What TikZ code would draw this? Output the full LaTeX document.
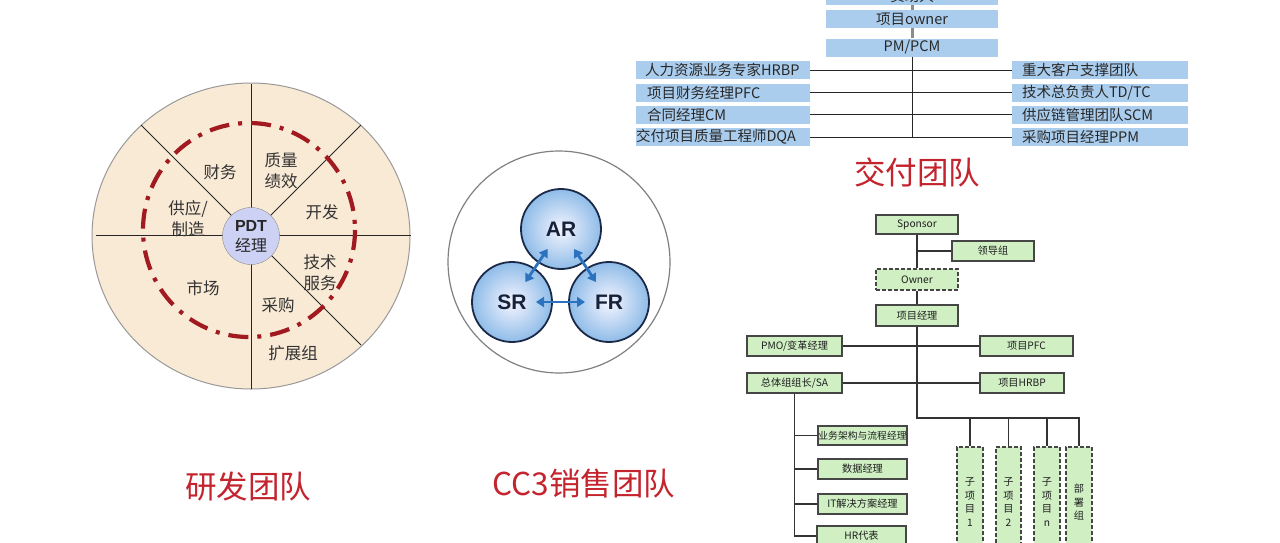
\documentclass[tikz,border=0pt]{standalone}
\usepackage{fontspec}
\setmainfont{Noto Sans CJK SC}
\newfontfamily\latb{Liberation Sans}
\usetikzlibrary{arrows.meta}
\definecolor{dblue}{RGB}{170,205,238}
\definecolor{dtxt}{RGB}{40,40,40}
\definecolor{ttl}{RGB}{196,36,46}
\definecolor{beige}{RGB}{249,234,214}
\definecolor{ring}{RGB}{160,26,32}
\definecolor{lav}{RGB}{205,210,245}
\definecolor{ggreen}{RGB}{208,240,196}
\definecolor{gdraw}{RGB}{70,70,70}
\definecolor{navy}{RGB}{27,42,72}
\definecolor{arblue}{RGB}{44,115,191}
\tikzset{
  dbox/.style={fill=dblue, minimum width=174, minimum height=18, inner sep=0, text=dtxt, font=\fontsize{14.5}{16}\selectfont},
  dtext/.style={anchor=west, inner sep=0, text=dtxt, font=\fontsize{14.5}{16}\selectfont},
  bline/.style={draw=black!85, line width=1},
  gline/.style={draw=black!45, line width=3},
  title/.style={text=ttl, font=\fontsize{31.5}{34}\selectfont},
  lbl/.style={text=black!80, font=\fontsize{16.5}{21}\selectfont, align=center, inner sep=0},
  gbox/.style={draw=gdraw, fill=ggreen, line width=1.1, minimum width=82, minimum height=20, inner sep=0, text=black!88, font=\fontsize{10.2}{13.5}\selectfont, align=center},
  dsh/.style={dash pattern=on 4 off 2},
  oline/.style={draw=black!80, line width=1.3},
  rball/.style={circle, draw=navy, line width=1.8, minimum size=80, inner color=blue!4, outer color={rgb,255:red,143;green,188;blue,232}, text=navy!80!black, font=\latb\bfseries\fontsize{21}{24}\selectfont},
  darr/.style={draw=arblue, line width=2.8, {Triangle[length=8,width=10]}-{Triangle[length=8,width=10]}, shorten <=24, shorten >=24},
}
\begin{document}
\begin{tikzpicture}[x=1pt,y=-1pt]
\useasboundingbox (0,0) rectangle (1280,542);
\fill[white] (0,0) rectangle (1280,542);
\clip (0,0) rectangle (1280,542);

% ---------- Delivery team ----------
\node[dbox, minimum width=172] (d0) at (912,-4) {资助人};
\node[dbox, minimum width=172] (d1) at (912,19) {项目owner};
\node[dbox, minimum width=172] (d2) at (912,47.5) {PM/PCM};
\draw[gline] (d0.south) -- (d1.north);
\draw[gline] (d1.south) -- (d2.north);

\node[dbox] (l1) at (723,70) {};
\node[dbox] (l2) at (723,92.5) {};
\node[dbox] (l3) at (723,114.5) {};
\node[dbox] (l4) at (723,137) {};
\node[dbox, minimum width=176] (r1) at (1100,70) {};
\node[dbox, minimum width=176] (r2) at (1100,92.5) {};
\node[dbox, minimum width=176] (r3) at (1100,114.5) {};
\node[dbox, minimum width=176] (r4) at (1100,137) {};
\node[dtext] (tl1) at ([xshift=9]l1.west) {人力资源业务专家HRBP};
\node[dtext] (tl2) at ([xshift=11]l2.west) {项目财务经理PFC};
\node[dtext] (tl3) at ([xshift=11]l3.west) {合同经理CM};
\node[dtext] (tl4) at ([xshift=0]l4.west) {交付项目质量工程师DQA};
\node[dtext] (tr1) at ([xshift=10]r1.west) {重大客户支撑团队};
\node[dtext] (tr2) at ([xshift=10]r2.west) {技术总负责人TD/TC};
\node[dtext] (tr3) at ([xshift=10]r3.west) {供应链管理团队SCM};
\node[dtext] (tr4) at ([xshift=10]r4.west) {采购项目经理PPM};
\draw[bline] (l1.east) -- (r1.west);
\draw[bline] (l2.east) -- (r2.west);
\draw[bline] (l3.east) -- (r3.west);
\draw[bline] (l4.east) -- (r4.west);
\draw[bline] (d2.south) -- (d2.south |- l4.east);
\node[title] (t3) at (917,172) {交付团队};

% ---------- R&D team ----------
\draw[draw=black!40, fill=beige, line width=1] (251,236) ellipse [x radius=159, y radius=153];
\draw[black!85, line width=0.8] (96,235) -- (411,235);
\draw[black!85, line width=0.8] (251,84) -- (251,389);
\draw[black!85, line width=0.8] (251,235) -- (141,125);
\draw[black!85, line width=0.8] (251,235) -- (361,125);
\draw[black!85, line width=0.8] (251,235) -- (361,345);
\draw[ring, line width=4.2, dash pattern=on 20 off 9 on 4 off 9] (249,230) ellipse [x radius=106, y radius=107];
\node[circle, draw=black!45, fill=lav, minimum size=57, inner sep=0, align=center, text=black!85, font=\fontsize{16}{20}\selectfont] (pdt) at (251,236)
  {{\latb\bfseries PDT}\\经理};
\node[lbl] (c1) at (220,172) {财务};
\node[lbl] (c2) at (281,171) {质量\\绩效};
\node[lbl] (c3) at (322,212) {开发};
\node[lbl] (c4) at (188,219) {供应/\\制造};
\node[lbl] (c5) at (320,273) {技术\\服务};
\node[lbl] (c6) at (203,288) {市场};
\node[lbl] (c7) at (278,305) {采购};
\node[lbl] (c8) at (293,353) {扩展组};
\node[title] (t1) at (248,487) {研发团队};

% ---------- CC3 sales team ----------
\draw[black!50, line width=1.2] (559,262) circle (111);
\node[rball] (ar) at (561,229) {AR};
\node[rball] (sr) at (512,302) {SR};
\node[rball] (fr) at (609,302) {FR};
\draw[darr] (ar.center) -- (sr.center);
\draw[darr] (ar.center) -- (fr.center);
\draw[darr] (sr.center) -- (fr.center);
\node[title] (t2) at (584,484) {CC3销售团队};

% ---------- Org chart ----------
\node[gbox, minimum height=19] (sp) at (917,224.5) {Sponsor};
\node[gbox] (ld) at (993,251) {领导组};
\node[gbox, dsh, minimum height=21] (ow) at (917,279.5) {Owner};
\node[gbox, minimum height=21] (pm) at (917,315.5) {项目经理};
\node[gbox, minimum width=95] (pmo) at (794.5,346) {PMO/变革经理};
\node[gbox, minimum width=93] (pfc) at (1026.5,346) {项目PFC};
\node[gbox, minimum width=95] (sa) at (794.5,383) {总体组组长/SA};
\node[gbox, minimum width=84] (hrbp) at (1022,383) {项目HRBP};
\node[gbox, minimum width=89, minimum height=19, font=\fontsize{9.8}{12}\selectfont] (b1) at (862.5,435.5) {业务架构与流程经理};
\node[gbox, minimum width=89] (b2) at (862.5,469) {数据经理};
\node[gbox, minimum width=89] (b3) at (862.5,504) {IT解决方案经理};
\node[gbox, minimum width=89] (b4) at (861.5,536) {HR代表};
\node[gbox, dsh, minimum width=26, minimum height=110] (s1) at (970,502) {子\\项\\目\\1};
\node[gbox, dsh, minimum width=25, minimum height=110] (s2) at (1008.5,502) {子\\项\\目\\2};
\node[gbox, dsh, minimum width=26, minimum height=110] (s3) at (1047,502) {子\\项\\目\\n};
\node[gbox, dsh, minimum width=26, minimum height=110] (s4) at (1079,502) {部\\署\\组};
\coordinate (j1) at (917,418);
\coordinate (j2) at (1079,418);
\draw[oline] (sp.south) -- (ow.north);
\draw[oline] (ow.south) -- (pm.north);
\draw[oline] (sp.south |- ld.west) -- (ld.west);
\draw[oline] (pmo.east) -- (pfc.west);
\draw[oline] (sa.east) -- (hrbp.west);
\draw[oline] (pm.south) -- (j1) -- (j2) -- (s4.north);
\draw[oline] (s1.north) -- (s1.north |- j1);
\draw[oline] (s2.north) -- (s2.north |- j1);
\draw[oline] (s3.north) -- (s3.north |- j1);
\draw[oline] (sa.south) -- (sa.south |- b4.west) -- (b4.west);
\draw[oline] (sa.south |- b1.west) -- (b1.west);
\draw[oline] (sa.south |- b2.west) -- (b2.west);
\draw[oline] (sa.south |- b3.west) -- (b3.west);
\end{tikzpicture}
\end{document}
